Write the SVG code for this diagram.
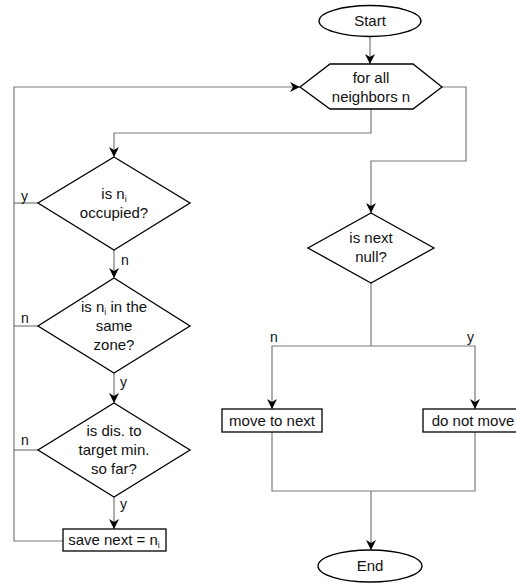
<svg xmlns="http://www.w3.org/2000/svg" width="516" height="586" viewBox="0 0 516 586">
<style>
.shape{fill:#fff;stroke:#000;stroke-width:1.3}
.conn{fill:none;stroke:#7a7a7a;stroke-width:1.2}
text{font-family:"Liberation Sans",Arial,sans-serif;font-size:15px;fill:#111}
.t{text-anchor:middle}
.lbl{font-size:14px}
.sub{font-size:9px}
</style>
<defs>
<marker id="arr" viewBox="0 0 10 10" refX="10" refY="5" markerWidth="10" markerHeight="10" markerUnits="userSpaceOnUse" orient="auto">
<path d="M0,0 L10,5 L0,10 L3,5 Z" fill="#000"/>
</marker>
</defs>
<rect width="516" height="586" fill="#fff"/>
<g id="connectors">
<path class="conn" d="M370,37 V64" marker-end="url(#arr)"/>
<path class="conn" d="M371,109 V133 H114 V157" marker-end="url(#arr)"/>
<path class="conn" d="M442,87 H466 V161 H371 V213" marker-end="url(#arr)"/>
<path class="conn" d="M63,541 H14 V87 H300" marker-end="url(#arr)"/>
<path class="conn" d="M38,203 H14"/>
<path class="conn" d="M38,326 H14"/>
<path class="conn" d="M38,450 H14"/>
<path class="conn" d="M114,250 V278" marker-end="url(#arr)"/>
<path class="conn" d="M114,373 V403" marker-end="url(#arr)"/>
<path class="conn" d="M114,497 V529" marker-end="url(#arr)"/>
<path class="conn" d="M371,283 V346"/>
<path class="conn" d="M371,346 H272 V409" marker-end="url(#arr)"/>
<path class="conn" d="M371,346 H475 V409" marker-end="url(#arr)"/>
<path class="conn" d="M272,432 V491 H475 V432"/>
<path class="conn" d="M371,491 V550" marker-end="url(#arr)"/>
<text class="lbl" x="21" y="201">y</text>
<text class="lbl" x="21" y="323">n</text>
<text class="lbl" x="21" y="445">n</text>
<text class="lbl" x="121" y="265">n</text>
<text class="lbl" x="120" y="387">y</text>
<text class="lbl" x="120" y="509">y</text>
<text class="lbl" x="270" y="342">n</text>
<text class="lbl" x="467" y="342">y</text>
</g>
<g id="start">
<ellipse class="shape" cx="370" cy="21" rx="51" ry="15.5"/>
<text class="t" x="370" y="26">Start</text>
</g>
<g id="forall">
<polygon class="shape" points="300,87 330,64 413,64 442,87 413,109 330,109"/>
<text class="t" x="371" y="83">for all</text>
<text class="t" x="371" y="102">neighbors n</text>
</g>
<g id="occupied">
<polygon class="shape" points="114,157 190,203 114,250 38,203"/>
<text class="t" x="114" y="199">is n<tspan class="sub" dy="3">i</tspan></text>
<text class="t" x="114" y="218">occupied?</text>
</g>
<g id="samezone">
<polygon class="shape" points="114,278 190,326 114,373 38,326"/>
<text class="t" x="114" y="312">is n<tspan class="sub" dy="3">i</tspan><tspan dy="-3"> in the</tspan></text>
<text class="t" x="114" y="331">same</text>
<text class="t" x="114" y="350">zone?</text>
</g>
<g id="mindist">
<polygon class="shape" points="114,403 190,450 114,497 38,450"/>
<text class="t" x="114" y="436">is dis. to</text>
<text class="t" x="114" y="455">target min.</text>
<text class="t" x="114" y="474">so far?</text>
</g>
<g id="savenext">
<rect class="shape" x="63" y="529" width="103" height="22"/>
<text class="t" x="114" y="545">save next = n<tspan class="sub" dy="3">i</tspan></text>
</g>
<g id="nextnull">
<polygon class="shape" points="371,213 434,248 371,283 308,248"/>
<text class="t" x="371" y="243">is next</text>
<text class="t" x="371" y="262">null?</text>
</g>
<g id="movetonext">
<rect class="shape" x="222" y="409" width="100" height="23"/>
<text class="t" x="272" y="426">move to next</text>
</g>
<g id="donotmove">
<rect class="shape" x="423" y="409" width="100" height="23"/>
<text class="t" x="473" y="426">do not move</text>
</g>
<g id="end">
<ellipse class="shape" cx="370" cy="566" rx="52" ry="16"/>
<text class="t" x="370" y="571">End</text>
</g>
</svg>
